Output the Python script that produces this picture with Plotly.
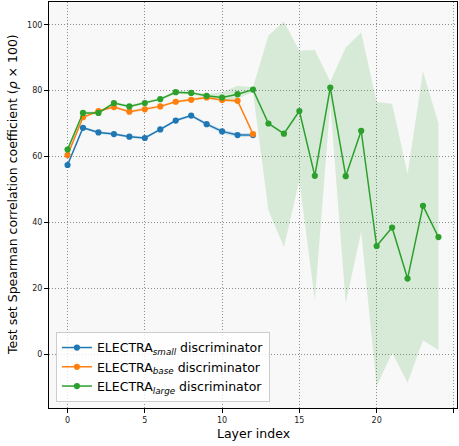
import plotly.graph_objects as go

layers_small = list(range(13))
layers_large = list(range(25))

small_mean = [57.4, 68.7, 67.3, 66.8, 66.0, 65.6, 68.2, 70.9, 72.4, 69.8, 67.6, 66.5, 66.5]
small_low = [57.0, 68.3, 66.9, 66.4, 65.6, 65.2, 67.8, 70.5, 72.0, 69.3, 67.0, 65.9, 65.9]
small_high = [57.8, 69.1, 67.7, 67.2, 66.4, 66.0, 68.6, 71.3, 72.8, 70.3, 68.2, 67.1, 67.1]

base_mean = [60.4, 71.9, 73.8, 75.0, 73.6, 74.3, 75.2, 76.6, 77.2, 77.9, 77.1, 76.9, 66.8]
base_low = [60.0, 71.5, 73.4, 74.6, 73.2, 73.9, 74.8, 76.2, 76.8, 77.4, 76.6, 76.4, 66.3]
base_high = [60.8, 72.3, 74.2, 75.4, 74.0, 74.7, 75.6, 77.0, 77.6, 78.4, 77.6, 77.4, 67.3]

large_mean = [62.1, 73.2, 73.2, 76.2, 75.2, 76.2, 77.4, 79.5, 79.3, 78.4, 77.9, 78.9, 80.3,
              70.0, 66.9, 73.8, 54.1, 80.9, 54.0, 67.8, 32.8, 38.4, 22.9, 45.0, 35.5]
large_low = [61.5, 72.7, 72.8, 75.8, 74.8, 75.8, 77.0, 79.0, 78.8, 77.9, 77.0, 77.5, 79.5,
             43.6, 32.5, 52.7, 16.4, 76.0, 15.4, 37.1, -9.9, 0.4, -8.7, 4.2, 1.2]
large_high = [62.7, 73.7, 73.6, 76.6, 75.6, 76.6, 77.8, 80.0, 79.8, 78.9, 79.5, 81.5, 81.0,
              96.7, 101.0, 92.1, 92.3, 82.7, 93.1, 97.7, 76.5, 76.0, 54.7, 85.8, 70.1]

names = ["ELECTRA<sub><i>small</i></sub> discriminator",
         "ELECTRA<sub><i>base</i></sub> discriminator",
         "ELECTRA<sub><i>large</i></sub> discriminator"]
colors = ["#1f77b4", "#ff7f0e", "#2ca02c"]
fills = ["rgba(31,119,180,0.18)", "rgba(255,127,14,0.18)", "rgba(44,160,44,0.16)"]

x_ticks = [0, 5, 10, 15, 20, 25]
y_ticks = [0, 20, 40, 60, 80, 100]
x_title = "Layer index"
y_title = "Test set Spearman correlation coefficient (<i>ρ</i> × 100)"

series = [
    (layers_small, small_mean, small_low, small_high),
    (layers_small, base_mean, base_low, base_high),
    (layers_large, large_mean, large_low, large_high),
]

fig = go.Figure()
for (xs, m, lo, hi), fc in zip(series, fills):
    fig.add_trace(go.Scatter(x=xs, y=hi, mode="lines", line=dict(width=0),
                             showlegend=False, hoverinfo="skip"))
    fig.add_trace(go.Scatter(x=xs, y=lo, mode="lines", line=dict(width=0),
                             fill="tonexty", fillcolor=fc,
                             showlegend=False, hoverinfo="skip"))

for (xs, m, lo, hi), name, c in zip(series, names, colors):
    fig.add_trace(go.Scatter(x=xs, y=m, mode="lines+markers", name=name,
                             line=dict(color=c, width=1.5),
                             marker=dict(color=c, size=6.2)))

axis_common = dict(
    showline=True, linecolor="black", linewidth=1, mirror=True,
    ticks="outside", ticklen=4, tickcolor="black", tickwidth=1,
    showgrid=True, gridcolor="#8c8c8c", griddash="1px,2px", gridwidth=1,
    zeroline=False, automargin=False,
    tickfont=dict(family="DejaVu Sans", size=8, color="#222"),
)

fig.update_xaxes(range=[-1.2, 25.2], tickvals=x_ticks, **axis_common)
fig.update_yaxes(range=[-16.4, 106.9], tickvals=y_ticks, **axis_common)

fig.add_annotation(text=x_title, xref="paper", yref="paper", x=0.5, y=-0.0616,
                   xanchor="center", yanchor="middle", showarrow=False,
                   font=dict(family="DejaVu Sans", size=12.5, color="black"))
fig.add_annotation(text=y_title, xref="paper", yref="paper", x=-0.088, y=0.525,
                   xanchor="center", yanchor="middle", showarrow=False, textangle=-90,
                   font=dict(family="DejaVu Sans", size=12.5, color="black"))

fig.update_layout(
    width=459, height=446,
    margin=dict(l=49, r=2, t=2, b=38),
    plot_bgcolor="#f8f8f8", paper_bgcolor="white",
    font=dict(family="DejaVu Sans"),
    legend=dict(x=0.017, y=0.015, xanchor="left", yanchor="bottom",
                bgcolor="rgba(255,255,255,0.8)", bordercolor="#cccccc", borderwidth=1,
                font=dict(family="DejaVu Sans", size=12.5, color="black"),
                itemwidth=30, tracegroupgap=0, traceorder="normal"),
)

fig.write_html("out.html", config={"displayModeBar": False},
               post_script="document.body.style.margin='0';document.body.style.overflow='hidden';")
